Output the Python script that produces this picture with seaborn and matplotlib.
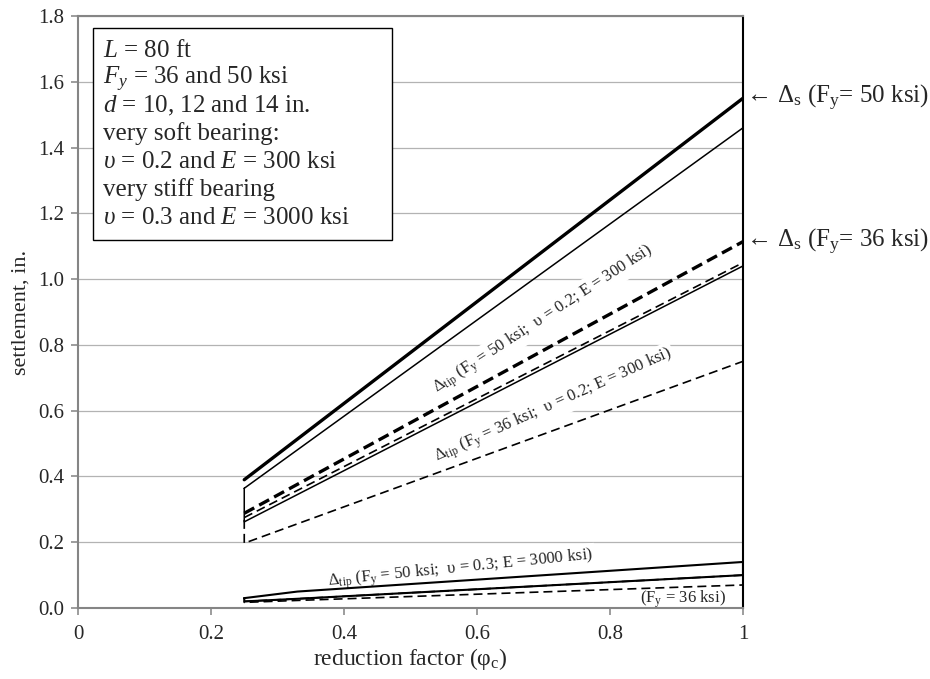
import matplotlib
matplotlib.use('Agg')
import matplotlib.pyplot as plt
from matplotlib.patches import Rectangle
import seaborn as sns
import pandas as pd

# reduction factor values where the curves are defined
phi = [0.25, 1.0]
phi_stiff = [0.25, 0.33, 1.0]

# total settlement (thick lines)
ds_50 = [0.39, 1.55]
ds_36 = [0.288, 1.114]

# tip settlement, very soft bearing (bands over d = 10..14 in.)
soft50_hi = [0.364, 1.46]
soft50_lo = [0.262, 1.04]
soft36_hi = [0.275, 1.05]
soft36_lo = [0.197, 0.75]

# tip settlement, very stiff bearing
stiff50_hi = [0.03, 0.05, 0.14]
stiff50_lo = [0.02, 0.028, 0.10]
stiff36_hi = [0.02, 0.028, 0.10]
stiff36_lo = [0.017, 0.023, 0.07]

x_ticks = [0, 0.2, 0.4, 0.6, 0.8, 1.0]
x_labels = ['0', '0.2', '0.4', '0.6', '0.8', '1']
y_ticks = [0.0, 0.2, 0.4, 0.6, 0.8, 1.0, 1.2, 1.4, 1.6, 1.8]

box_lines = [
    '$L$ = 80 ft',
    '$F_y$ = 36 and 50 ksi',
    '$d$ = 10, 12 and 14 in.',
    'very soft bearing:',
    '$\\upsilon$ = 0.2 and $E$ = 300 ksi',
    'very stiff bearing',
    '$\\upsilon$ = 0.3 and $E$ = 3000 ksi',
]


def band(xs, hi, lo):
    # closed outline: upper curve, down the right side, lower curve back
    return pd.DataFrame({'x': xs + xs[::-1] + [xs[0]],
                         'y': hi + lo[::-1] + [hi[0]]})


sns.set_style('white')
plt.rcParams['font.family'] = ['Liberation Serif', 'DejaVu Serif']
plt.rcParams['mathtext.fontset'] = 'custom'
plt.rcParams['mathtext.rm'] = 'Liberation Serif'
plt.rcParams['mathtext.it'] = 'Liberation Serif:italic'
plt.rcParams['mathtext.bf'] = 'Liberation Serif:bold'

W, H = 930, 679
fig = plt.figure(figsize=(W / 100, H / 100), dpi=100)
ax = fig.add_axes([78 / W, 1 - 608 / H, 665 / W, 592 / H])

thick_dash = (0, (3.4, 1.7))
thin_dash = (0, (5.4, 3.0))

sns.lineplot(x=phi, y=ds_50, ax=ax, color='black', lw=2.4, estimator=None, sort=False, zorder=5)
sns.lineplot(x=phi, y=ds_36, ax=ax, color='black', lw=2.4, linestyle=thick_dash,
             estimator=None, sort=False, zorder=5)

b = band(phi, soft50_hi, soft50_lo)
sns.lineplot(data=b, x='x', y='y', ax=ax, color='black', lw=1.1, estimator=None, sort=False, zorder=5)
b = band(phi, soft36_hi, soft36_lo)
sns.lineplot(data=b, x='x', y='y', ax=ax, color='black', lw=1.2, linestyle=thin_dash,
             estimator=None, sort=False, zorder=5)
b = band(phi_stiff, stiff50_hi, stiff50_lo)
sns.lineplot(data=b, x='x', y='y', ax=ax, color='black', lw=1.5, estimator=None, sort=False, zorder=5)
b = band(phi_stiff, stiff36_hi, stiff36_lo)
sns.lineplot(data=b, x='x', y='y', ax=ax, color='black', lw=1.2, linestyle=thin_dash,
             estimator=None, sort=False, zorder=5)

ax.set_xlim(0, 1)
ax.set_ylim(0, 1.8)
ax.set_xticks(x_ticks)
ax.set_xticklabels(x_labels)
ax.set_yticks(y_ticks)
ax.set_yticklabels([f'{v:.1f}' for v in y_ticks])
ax.tick_params(axis='both', which='major', labelsize=15, direction='out', length=5,
               width=1.2, color='#8c8c8c', pad=5)
ax.tick_params(axis='x', bottom=True, pad=7)
ax.tick_params(axis='y', left=True)
ax.grid(axis='y', color='#b3b3b3', lw=0.9)
ax.set_axisbelow(True)

for side in ['left', 'bottom', 'top']:
    ax.spines[side].set_color('#858585')
    ax.spines[side].set_linewidth(1.5)
ax.spines['right'].set_color('black')
ax.spines['right'].set_linewidth(1.5)

ax.set_xlabel('reduction factor (φ$_\\mathrm{c}$)', fontsize=17, labelpad=2)
ax.set_ylabel('settlement, in.', fontsize=16, labelpad=5)

# labels along the bands (white background cuts the gridlines)
lab_kw = dict(fontsize=12, rotation_mode='anchor', ha='left', va='baseline', zorder=3,
              bbox=dict(fc='white', ec='none', pad=1.5))
ax.text(0.54, 0.655, '$\\Delta_\\mathrm{tip}$ (F$_\\mathrm{y}$ = 50 ksi;  υ = 0.2; E = 300 ksi)',
        rotation=33, **lab_kw)
ax.text(0.54, 0.445, '$\\Delta_\\mathrm{tip}$ (F$_\\mathrm{y}$ = 36 ksi;  υ = 0.2; E = 300 ksi)',
        rotation=24, **lab_kw)
ax.text(0.376, 0.068, '$\\Delta_\\mathrm{tip}$ (F$_\\mathrm{y}$ = 50 ksi;  υ = 0.3; E = 3000 ksi)',
        rotation=5.7, **lab_kw)
ax.text(0.845, 0.016, '(F$_\\mathrm{y}$ = 36 ksi)', fontsize=12, ha='left', va='baseline', zorder=3)

# right-hand labels for the total settlement lines
for yv, txt in [(ds_50[-1], '← $\\Delta_\\mathrm{s}$ (F$_\\mathrm{y}$= 50 ksi)'),
                (ds_36[-1], '← $\\Delta_\\mathrm{s}$ (F$_\\mathrm{y}$= 36 ksi)')]:
    ax.annotate(txt, xy=(1.0, yv), xytext=(2, 0), textcoords='offset points',
                ha='left', va='center', fontsize=18, annotation_clip=False)

# parameter box, one text per line so the spacing stays even
fig.add_artist(Rectangle((93 / W, 1 - 240 / H), (392 - 93) / W, (240 - 28) / H,
                         transform=fig.transFigure, fc='white', ec='black', lw=1.0, zorder=9))
for i, line in enumerate(box_lines):
    fig.text(103 / W, 1 - (56.7 + 27.9 * i) / H, line, fontsize=18, ha='left',
             va='baseline', zorder=10)

fig.savefig('out.png', dpi=100)
plt.close()
